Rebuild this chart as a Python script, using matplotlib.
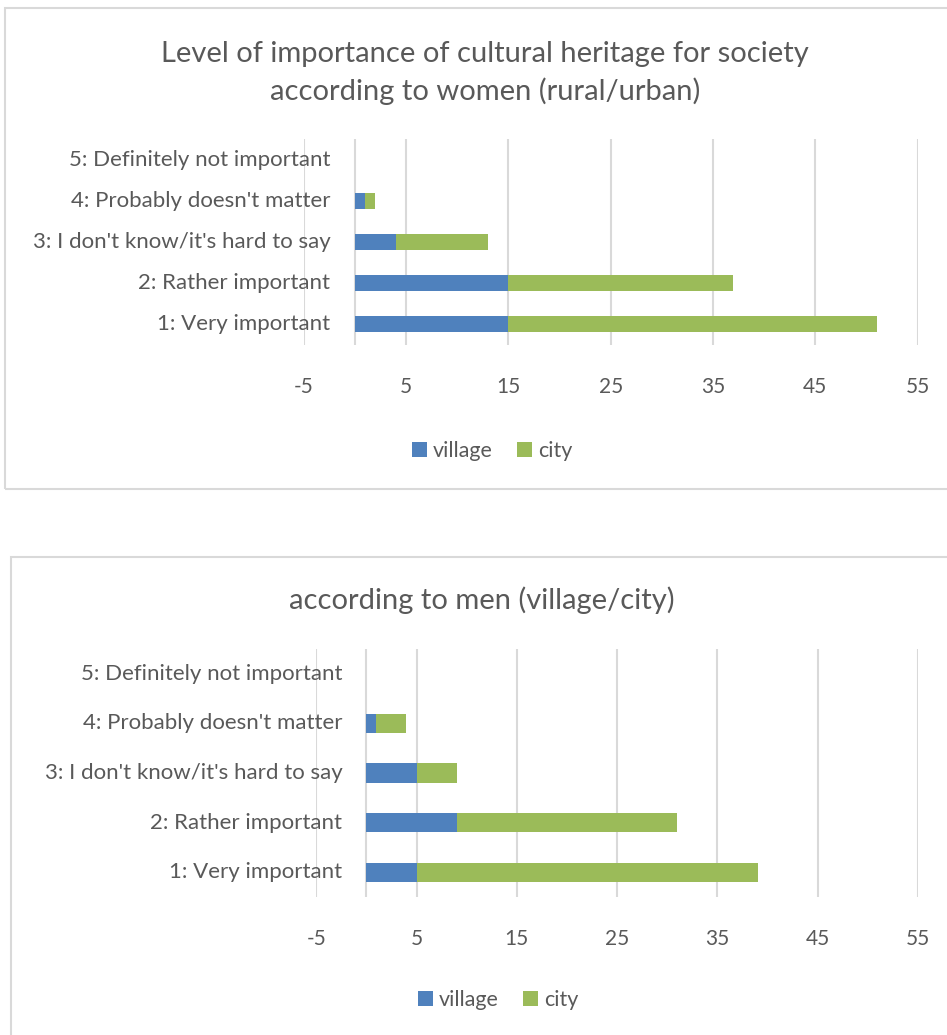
import matplotlib
matplotlib.use("Agg")
import matplotlib.pyplot as plt
from matplotlib.patches import Rectangle

# answer categories, bottom to top
categories = ["1: Very important", "2: Rather important",
              "3: I don't know/it's hard to say", "4: Probably doesn't matter",
              "5: Definitely not important"]

# women
women_village = [15, 15, 4, 1, 0]
women_city = [36, 22, 9, 1, 0]

# men
men_village = [5, 9, 5, 1, 0]
men_city = [34, 22, 4, 3, 0]

tick_values = [-5, 5, 15, 25, 35, 45, 55]
tick_labels = [str(t) for t in tick_values]

title_women = "Level of importance of cultural heritage for society\naccording to women (rural/urban)"
title_men = "according to men (village/city)"

BLUE = "#4F81BD"
GREEN = "#9BBB59"
TEXT = "#595959"
GRID = "#D9D9D9"

W, H = 947, 1035
plt.rcParams['font.family'] = ['Lato', 'DejaVu Sans']

fig = plt.figure(figsize=(W / 100, H / 100), dpi=100)


def px_axes(left, top, right, bottom):
    return fig.add_axes([left / W, 1 - bottom / H, (right - left) / W, (bottom - top) / H])


def panel(ax, village, city, label_x):
    y = range(len(categories))
    b1 = ax.barh(y, village, height=0.39, color=BLUE, zorder=2)
    b2 = ax.barh(y, city, left=village, height=0.39, color=GREEN, zorder=2)
    ax.set_xlim(-5, 55)
    ax.set_ylim(-0.5, 4.5)
    ax.set_xticks(tick_values)
    ax.set_xticklabels(tick_labels)
    ax.set_yticks([])
    ax.tick_params(axis='x', length=0, pad=23, labelsize=15, labelcolor=TEXT)
    ax.grid(axis='x', color=GRID, linewidth=1.5, zorder=0)
    ax.axvline(0, color=GRID, linewidth=1.5, zorder=1)
    for s in ax.spines.values():
        s.set_visible(False)
    for i, c in enumerate(categories):
        ax.text(label_x, i, c, ha='right', va='center', fontsize=16,
                color=TEXT, zorder=3)
    return b1, b2


# panel frames
fig.patches.append(Rectangle((5 / W, 1 - 489 / H), 1.2, (489 - 8) / H,
                             transform=fig.transFigure, fill=False,
                             edgecolor=GRID, linewidth=1.5))
fig.patches.append(Rectangle((11 / W, -0.1), 1.2, 0.1 + (1 - 557 / H),
                             transform=fig.transFigure, fill=False,
                             edgecolor=GRID, linewidth=1.5))

legend_kw = dict(loc='center', ncol=2, frameon=False, fontsize=15.5, labelcolor=TEXT,
                 handlelength=0.7, handleheight=0.7, handletextpad=0.3, columnspacing=1.1)

# women panel
ax1 = px_axes(303.9, 139, 917.6, 345)
h1 = panel(ax1, women_village, women_city, -2.4)
fig.text(485 / W, 1 - 73 / H, title_women, ha='center', va='center',
         fontsize=21, color=TEXT, linespacing=1.45)
fig.legend(h1, ["village", "city"], bbox_to_anchor=(492 / W, 1 - 451 / H), **legend_kw)

# men panel
ax2 = px_axes(316.2, 649, 918, 897)
h2 = panel(ax2, men_village, men_city, -2.4)
fig.text(482 / W, 1 - 600 / H, title_men, ha='center', va='center',
         fontsize=21, color=TEXT)
fig.legend(h2, ["village", "city"], bbox_to_anchor=(498 / W, 1 - 1000 / H), **legend_kw)

fig.savefig("out.png", dpi=100)
